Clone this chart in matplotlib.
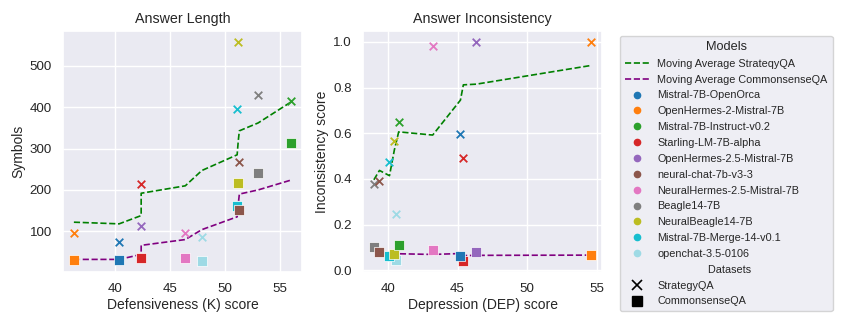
import numpy as np
import matplotlib.pyplot as plt
import seaborn as sns
from matplotlib.lines import Line2D

sns.set_theme(style="darkgrid")
plt.rcParams['font.family'] = ['Liberation Sans', 'DejaVu Sans']

models = ['Mistral-7B-OpenOrca', 'OpenHermes-2-Mistral-7B', 'Mistral-7B-Instruct-v0.2',
          'Starling-LM-7B-alpha', 'OpenHermes-2.5-Mistral-7B', 'neural-chat-7b-v3-3',
          'NeuralHermes-2.5-Mistral-7B', 'Beagle14-7B', 'NeuralBeagle14-7B',
          'Mistral-7B-Merge-14-v0.1', 'openchat-3.5-0106']
colors = ['#1f77b4', '#ff7f0e', '#2ca02c', '#d62728', '#9467bd', '#8c564b',
          '#e377c2', '#7f7f7f', '#bcbd22', '#17becf', '#9edae5']

# left panel: defensiveness vs answer length
k_score = [40.4, 36.3, 56.0, 42.4, 42.4, 51.3, 46.4, 53.0, 51.2, 51.1, 47.9]
len_sqa = [75, 96, 414, 215, 114, 267, 96, 430, 558, 396, 85]
len_cqa = [30, 30, 314, 35, 35, 152, 35, 240, 217, 161, 28]
len_ma_sqa = [118, 122, 413, 138, 192, 343, 210, 362, 318, 285, 247]
len_ma_cqa = [32, 32, 224, 44, 66, 190, 80, 200, 165, 135, 104]

# right panel: depression vs inconsistency
dep_score = [45.21, 54.59, 40.78, 45.42, 46.35, 39.4, 43.22, 39.0, 40.47, 40.12, 40.59]
inc_sqa = [0.595, 1.0, 0.649, 0.49, 1.0, 0.389, 0.98, 0.377, 0.566, 0.472, 0.244]
inc_cqa = [0.06, 0.067, 0.109, 0.04, 0.08, 0.08, 0.089, 0.103, 0.071, 0.061, 0.044]
inc_ma_sqa = [0.745, 0.897, 0.606, 0.812, 0.815, 0.437, 0.592, 0.396, 0.527, 0.414, 0.557]
inc_ma_cqa = [0.073, 0.066, 0.072, 0.064, 0.065, 0.077, 0.069, 0.087, 0.073, 0.073, 0.072]

fig, axes = plt.subplots(1, 2, figsize=(8.47, 3.26), dpi=100)
fig.subplots_adjust(left=0.0744, right=0.7108, bottom=0.1656, top=0.905, wspace=0.255)


def panel(ax, x, y1, y2, m1, m2, title, xlabel, ylabel):
    x = np.array(x)
    order = np.argsort(x, kind='stable')
    ax.plot(x[order], np.array(m1)[order], '--', color='green', lw=1.2)
    ax.plot(x[order], np.array(m2)[order], '--', color='purple', lw=1.2)
    # later models are drawn underneath earlier ones
    for i in reversed(range(len(x))):
        ax.scatter(x[i], y1[i], marker='x', s=30, color=colors[i], linewidths=1.3, zorder=3)
        ax.scatter(x[i], y2[i], marker='s', s=45, color=colors[i], edgecolors='white',
                   linewidths=0.5, zorder=3)
    ax.set_title(title, fontsize=10.3)
    ax.set_xlabel(xlabel, fontsize=10, labelpad=2)
    ax.set_ylabel(ylabel, fontsize=10, labelpad=3)
    ax.tick_params(labelsize=9.6, pad=2)


panel(axes[0], k_score, len_sqa, len_cqa, len_ma_sqa, len_ma_cqa,
      'Answer Length', 'Defensiveness (K) score', 'Symbols')
axes[0].set_yticks([100, 200, 300, 400, 500])
axes[0].set_xticks([40, 45, 50, 55])
panel(axes[1], dep_score, inc_sqa, inc_cqa, inc_ma_sqa, inc_ma_cqa,
      'Answer Inconsistency', 'Depression (DEP) score', 'Inconsistency score')
axes[1].set_xticks([40, 45, 50, 55])

handles = [Line2D([], [], ls='--', color='green', lw=1.2),
           Line2D([], [], ls='--', color='purple', lw=1.2)]
labels = ['Moving Average StrateqyQA', 'Moving Average CommonsenseQA']
for c, m in zip(colors, models):
    handles.append(Line2D([], [], ls='', marker='o', color=c, markersize=4.5))
    labels.append(m)
handles.append(Line2D([], [], ls='', marker=None))
labels.append(' ' * 17 + 'Datasets')
handles.append(Line2D([], [], ls='', marker='x', color='black', markersize=7, mew=1.2))
labels.append('StrategyQA')
handles.append(Line2D([], [], ls='', marker='s', color='black', markersize=6.5))
labels.append('CommonsenseQA')

fig.legend(handles, labels, title='Models', loc='upper left',
           bbox_to_anchor=(620 / 847, 1 - 36 / 326), borderaxespad=0,
           fontsize=7.8, title_fontsize=9.2, handlelength=2.2, labelspacing=0.54,
           borderpad=0.45, handletextpad=0.8)

fig.savefig('out.png', dpi=100)
